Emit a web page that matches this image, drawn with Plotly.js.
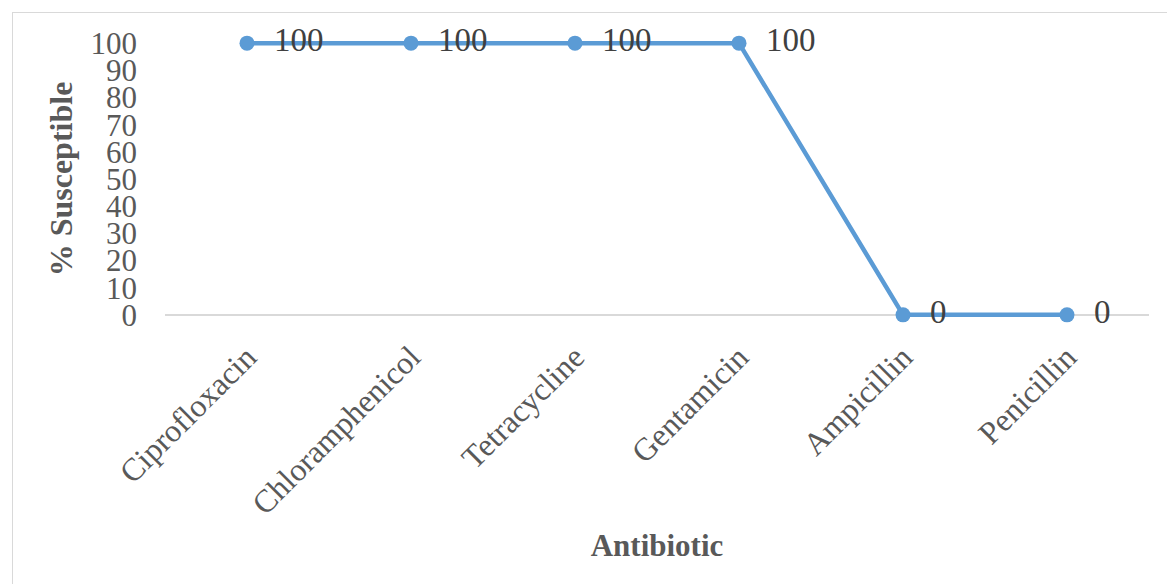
<!DOCTYPE html>
<html>
<head>
<meta charset="utf-8">
<script src="https://cdn.plot.ly/plotly-3.0.1.min.js"></script>
<style>
html,body{margin:0;padding:0;background:#fff;}
#wrap{position:relative;width:1167px;height:584px;overflow:hidden;}
#frame{position:absolute;left:12px;top:12px;width:1200px;height:700px;border-left:1px solid #d9d9d9;border-top:1px solid #d9d9d9;pointer-events:none;}
#chart{position:absolute;left:0;top:0;width:1167px;height:584px;}
</style>
</head>
<body>
<div id="wrap">
<div id="chart"></div>
<div id="frame"></div>
</div>
<script>
const antibiotics = ["Ciprofloxacin", "Chloramphenicol", "Tetracycline", "Gentamicin", "Ampicillin", "Penicillin"];
const susceptible = [100, 100, 100, 100, 0, 0];
const yTicks = [0, 10, 20, 30, 40, 50, 60, 70, 80, 90, 100];

const serif = "'Liberation Serif', 'Times New Roman', serif";

const trace = {
  x: antibiotics,
  y: susceptible,
  type: "scatter",
  mode: "lines+markers+text",
  text: susceptible.map(String),
  texttemplate: "\u2002%{text}",
  textposition: "middle right",
  textfont: {family: serif, size: 33, color: "#404040"},
  line: {color: "#5B9BD5", width: 4.5},
  marker: {color: "#5B9BD5", size: 15},
  cliponaxis: false,
  hoverinfo: "x+y"
};

const layout = {
  width: 1167,
  height: 584,
  paper_bgcolor: "#ffffff",
  plot_bgcolor: "#ffffff",
  showlegend: false,
  margin: {l: 165, r: 18, t: 35, b: 261},
  font: {family: serif, color: "#595959"},
  xaxis: {
    type: "category",
    range: [-0.5, 5.5],
    showgrid: false,
    showline: false,
    zeroline: false,
    ticks: "",
    tickangle: -45,
    ticklabelstandoff: 8,
    tickfont: {family: serif, size: 32, color: "#595959"},
    automargin: false,
    title: {text: "<b>Antibiotic</b>", font: {family: serif, size: 31, color: "#595959"}, standoff: 13}
  },
  yaxis: {
    range: [-3, 103],
    tickvals: yTicks,
    ticktext: yTicks.map(String),
    showgrid: false,
    zeroline: true,
    zerolinecolor: "#d9d9d9",
    zerolinewidth: 2,
    showline: false,
    ticks: "",
    ticklabelstandoff: 27,
    tickfont: {family: serif, size: 31, color: "#595959"},
    automargin: false,
    title: {text: "<b>% Susceptible</b>", font: {family: serif, size: 32, color: "#595959"}, standoff: 8}
  }
};

Plotly.newPlot("chart", [trace], layout, {displayModeBar: false, staticPlot: true});
</script>
</body>
</html>
